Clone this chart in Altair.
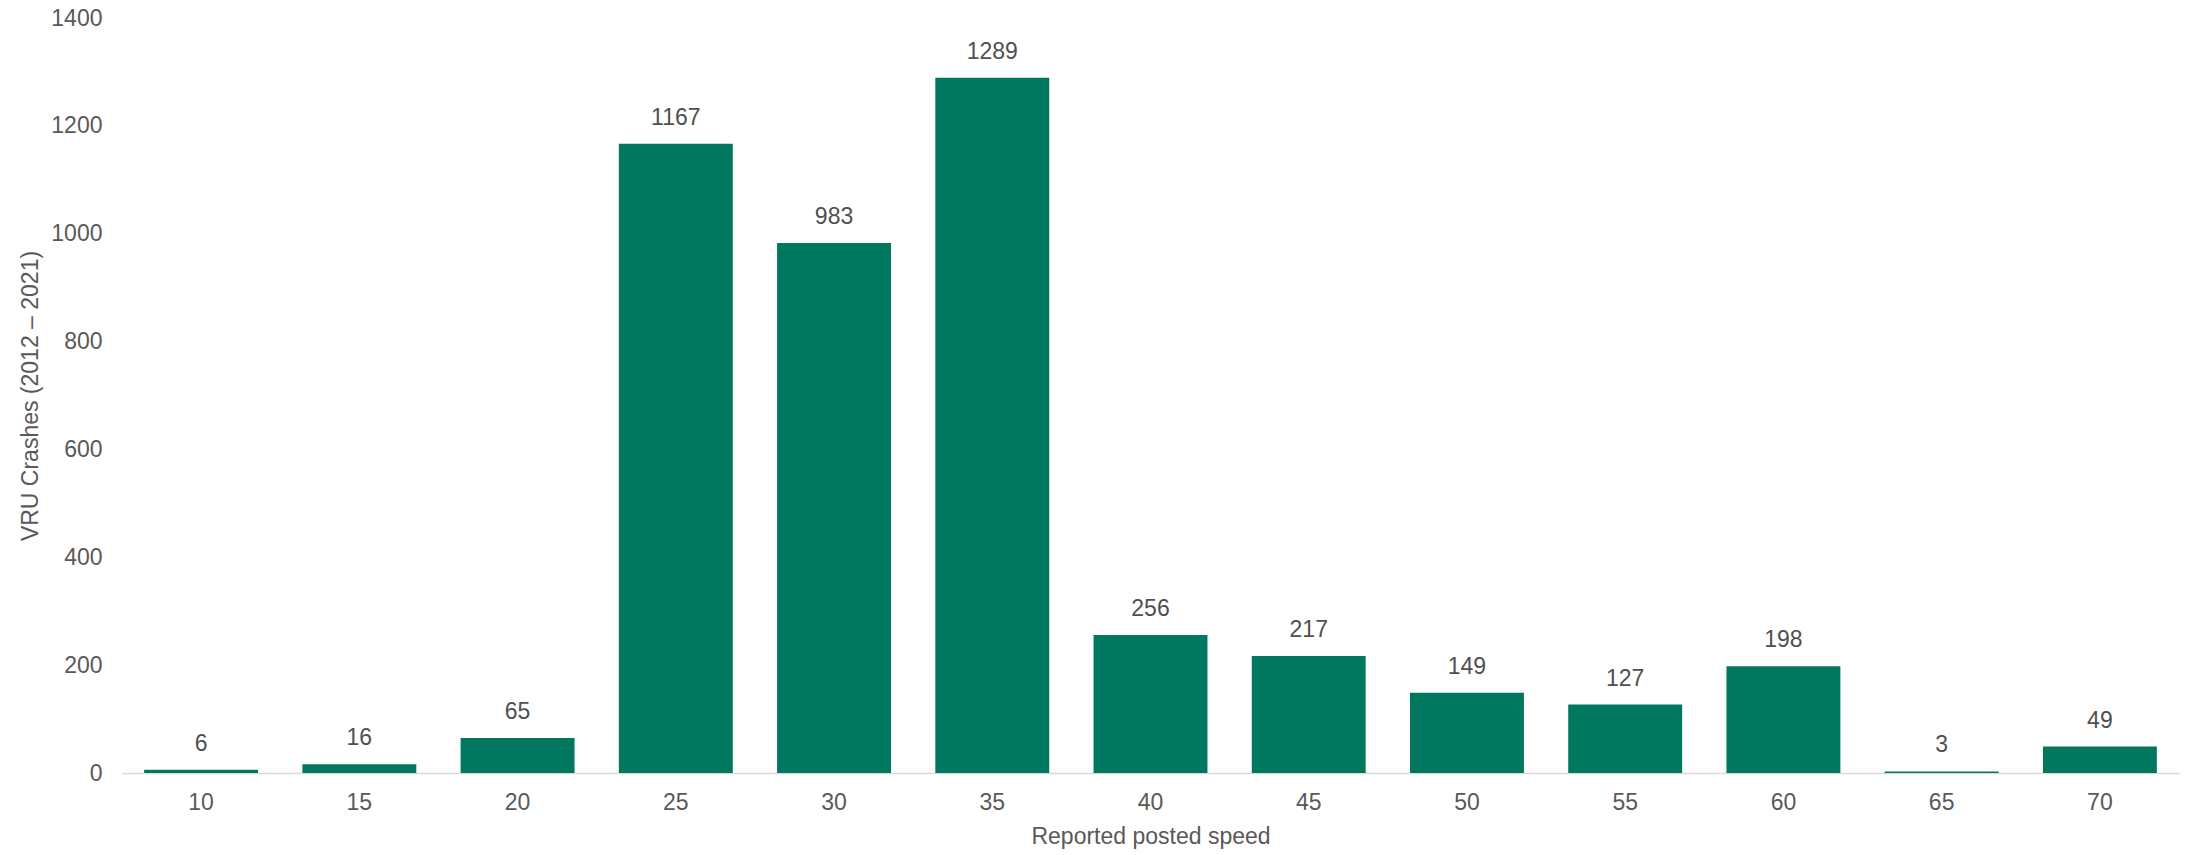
import altair as alt
import pandas as pd

speeds = ["10", "15", "20", "25", "30", "35", "40", "45", "50", "55", "60", "65", "70"]
crashes = [6, 16, 65, 1167, 983, 1289, 256, 217, 149, 127, 198, 3, 49]

df = pd.DataFrame({"speed": speeds, "crashes": crashes})

FONT = "Liberation Sans"
W, H = 2057, 755

x = alt.X(
    "speed:N",
    sort=speeds,
    scale=alt.Scale(paddingInner=0.28, paddingOuter=0.14),
    axis=alt.Axis(
        title="Reported posted speed",
        labelAngle=0,
        ticks=False,
        grid=False,
        domain=True,
        domainColor="#D9D9D9",
        domainWidth=1.5,
        labelPadding=18,
        labelFont=FONT,
        labelFontSize=23,
        labelColor="#595959",
        titleFont=FONT,
        titleFontSize=23,
        titleFontWeight="normal",
        titleColor="#595959",
        titleX=W / 2,
        titleY=70,
        titleBaseline="alphabetic",
        titleAlign="center",
    ),
)

y = alt.Y(
    "crashes:Q",
    scale=alt.Scale(domain=[0, 1400], nice=False),
    axis=alt.Axis(
        title="VRU Crashes (2012 \u2013 2021)",
        values=[0, 200, 400, 600, 800, 1000, 1200, 1400],
        format="d",
        ticks=False,
        grid=False,
        domain=False,
        labelPadding=20,
        labelFont=FONT,
        labelFontSize=23,
        labelColor="#595959",
        titleFont=FONT,
        titleFontSize=23,
        titleFontWeight="normal",
        titleColor="#595959",
        titleAngle=-90,
        titleX=-92,
        titleY=H / 2,
        titleBaseline="middle",
        titleAlign="center",
    ),
)

bars = alt.Chart(df).mark_bar(color="#00785F").encode(x=x, y=y)

labels = alt.Chart(df).mark_text(
    baseline="alphabetic",
    dy=-19,
    font=FONT,
    fontSize=23,
    color="#505050",
).encode(x=alt.X("speed:N", sort=speeds), y="crashes:Q", text="crashes:Q")

chart = (
    alt.layer(bars, labels)
    .properties(
        width=W,
        height=H,
        background="white",
        autosize=alt.AutoSizeParams(type="none"),
        padding={"left": 122, "top": 18, "right": 13, "bottom": 82},
    )
    .configure_view(strokeWidth=0, stroke="transparent")
)

chart.save("out.html", embed_options={"renderer": "svg", "actions": False})
